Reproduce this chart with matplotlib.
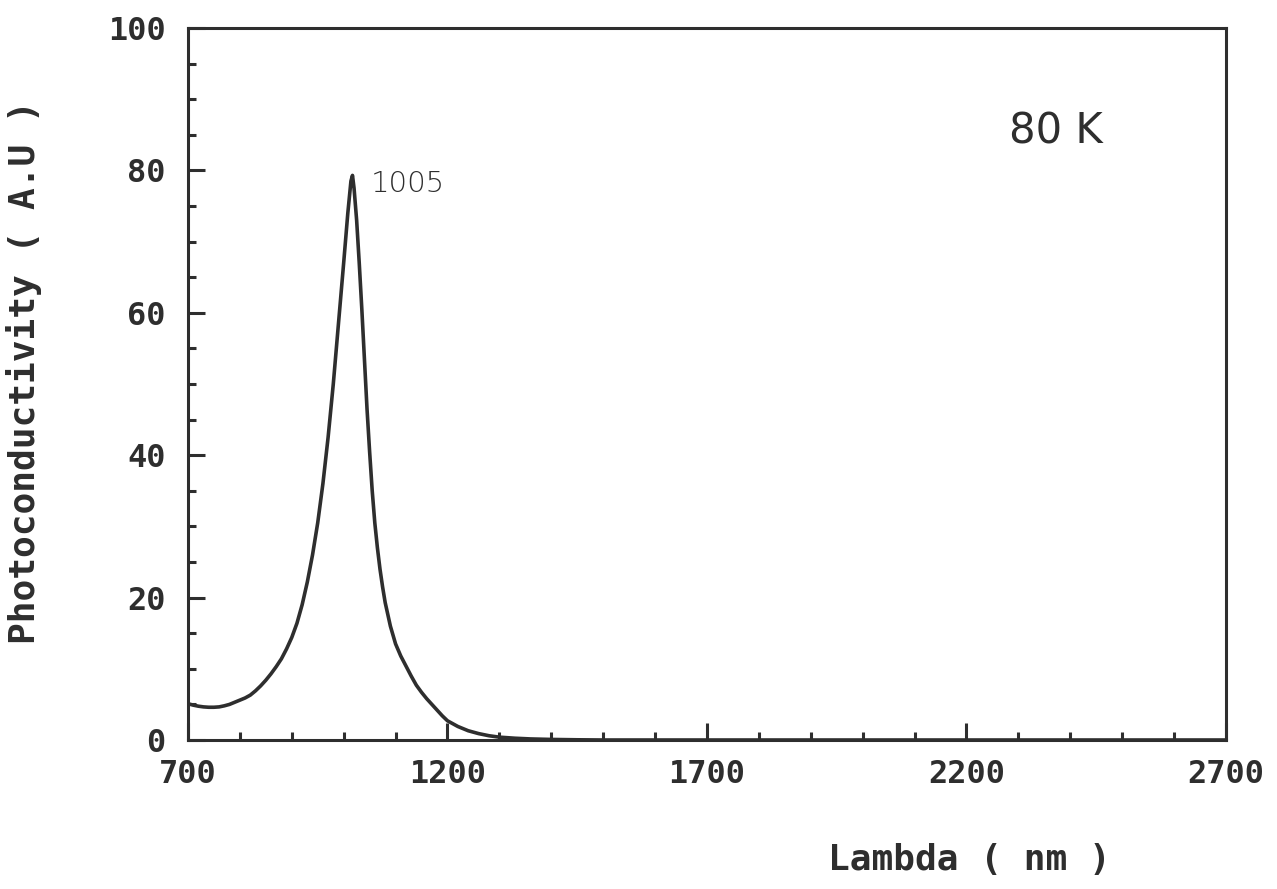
import matplotlib
matplotlib.use("Agg")
import numpy as np
import matplotlib.pyplot as plt
from matplotlib.ticker import MultipleLocator

# wavelength (nm) and photoconductivity (A.U)
wavelength = [700, 710, 720, 730, 740, 750, 760, 770, 780, 790, 800, 810, 820,
              830, 840, 850, 860, 870, 880, 890, 900, 910, 920, 930, 940, 950,
              960, 970, 980, 990, 1000, 1008, 1014, 1017, 1020, 1025, 1030, 1035,
              1040, 1045, 1050, 1055, 1060, 1065, 1070, 1075, 1080, 1090, 1100,
              1110, 1120, 1130, 1140, 1150, 1160, 1170, 1180, 1190, 1200, 1220,
              1240, 1260, 1280, 1300, 1330, 1360, 1400, 1450, 1500, 2700]
photocond = [5.1, 4.9, 4.75, 4.65, 4.6, 4.6, 4.65, 4.8, 5.0, 5.3, 5.6, 5.9, 6.3,
             6.9, 7.6, 8.4, 9.3, 10.3, 11.4, 12.8, 14.4, 16.4, 19.0, 22.2, 26.0, 30.5,
             36.0, 42.5, 50.0, 58.5, 67.0, 74.0, 78.5, 79.3, 77.5, 73.0, 67.0, 60.5,
             53.5, 46.5, 40.5, 35.0, 30.5, 27.0, 24.0, 21.5, 19.3, 16.0, 13.5,
             11.8, 10.4, 9.0, 7.7, 6.7, 5.8, 5.0, 4.2, 3.4, 2.7, 1.9,
             1.3, 0.9, 0.6, 0.4, 0.25, 0.15, 0.08, 0.03, 0.0, 0.0]

x_major = [700, 1200, 1700, 2200, 2700]
peak_label = "1005"
temp_label = "80 K"

ink = "#2e2e2e"
mono = "DejaVu Sans Mono"

fig = plt.figure(figsize=(12.77, 8.89), dpi=100)
ax = fig.add_axes([0.1472, 0.1676, 0.8128, 0.8009])

ax.plot(wavelength, photocond, color=ink, linewidth=2.6, solid_joinstyle="round")

ax.set_xlim(700, 2700)
ax.set_ylim(0, 100)
ax.set_xticks(x_major)
ax.xaxis.set_minor_locator(MultipleLocator(100))
ax.yaxis.set_major_locator(MultipleLocator(20))
ax.yaxis.set_minor_locator(MultipleLocator(5))

for s in ax.spines.values():
    s.set_linewidth(2.2)
    s.set_color(ink)

ax.tick_params(which="both", direction="in", color=ink, width=2.2,
               top=False, right=False, labelcolor=ink)
ax.tick_params(which="major", length=12)
ax.tick_params(which="minor", length=6)
ax.tick_params(axis="x", which="major", pad=14)
ax.tick_params(axis="y", which="major", pad=16)

for lbl in ax.get_xticklabels() + ax.get_yticklabels():
    lbl.set_family(mono)
    lbl.set_fontsize(23)
    lbl.set_fontweight("bold")

ax.set_xlabel("Lambda ( nm )", family=mono, fontsize=26, fontweight="bold", color=ink)
ax.xaxis.set_label_coords(0.753, -0.145)
ax.set_ylabel("Photoconductivity ( A.U )", family=mono, fontsize=26, fontweight="bold", color=ink)
ax.yaxis.set_label_coords(-0.141, 0.517)

ax.text(1053, 78.1, peak_label, fontsize=21, color=ink, va="center", ha="left",
        fontweight="light")
ax.text(0.791, 0.855, temp_label, transform=ax.transAxes, fontsize=30, color=ink,
        va="center", ha="left")

fig.savefig("out.png", dpi=100)
